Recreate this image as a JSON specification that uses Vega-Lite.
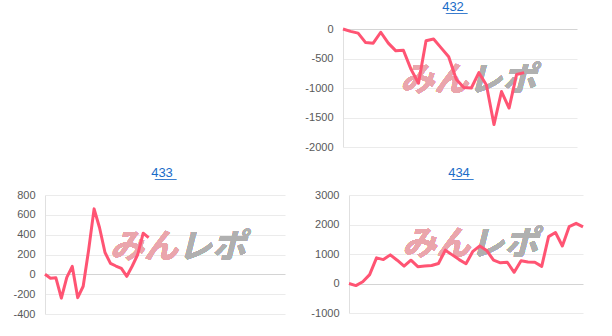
{
  "$schema": "https://vega.github.io/schema/vega-lite/v6.json",
  "padding": {"left": 12, "top": 1, "right": 0, "bottom": 0},
  "background": "white",
  "config": {
    "view": {"stroke": null},
    "font": "Liberation Sans",
    "title": {"fontSize": 13, "fontWeight": "normal", "color": "#1a6cc8", "font": "Liberation Sans", "offset": 9},
    "axisY": {"grid": true, "gridColor": {"condition": {"test": "datum.value === 0", "value": "#d4d4d4"}, "value": "#ebebeb"}, "domainColor": "#e0e0e0", "ticks": false, "labelPadding": 10, "labelColor": "#595959", "labelFontSize": 11, "labelFont": "Liberation Sans", "labelExpr": "'' + datum.value", "title": null}
  },
  "spacing": 15,
  "vconcat": [
    {
      "spacing": 19,
      "hconcat": [
        {
          "width": 240, "height": 118,
          "data": {"values": [{"i": 0}]},
          "mark": {"type": "point", "opacity": 0},
          "encoding": {}
        },
        {
          "title": {"text": "4\u03323\u03322\u0332", "dx": -7},
          "width": 234, "height": 118,
          "data": {"values": [
            {"i": 0, "v": 0}, {"i": 1, "v": -40}, {"i": 2, "v": -70}, {"i": 3, "v": -230}, {"i": 4, "v": -240},
            {"i": 5, "v": -55}, {"i": 6, "v": -240}, {"i": 7, "v": -370}, {"i": 8, "v": -360}, {"i": 9, "v": -680},
            {"i": 10, "v": -920}, {"i": 11, "v": -200}, {"i": 12, "v": -170}, {"i": 13, "v": -320}, {"i": 14, "v": -470},
            {"i": 15, "v": -850}, {"i": 16, "v": -990}, {"i": 17, "v": -1000}, {"i": 18, "v": -740}, {"i": 19, "v": -950},
            {"i": 20, "v": -1620}, {"i": 21, "v": -1060}, {"i": 22, "v": -1340}, {"i": 23, "v": -770}, {"i": 24, "v": -740}
          ]},
          "layer": [
            {
              "mark": {"type": "text", "text": "みん", "font": "Noto Sans CJK JP", "fontWeight": "bold", "fontStyle": "italic", "fontSize": 34, "color": "#eaa5ac", "align": "right", "baseline": "middle"},
              "encoding": {"x": {"datum": 16.6, "type": "quantitative", "axis": null}, "y": {"datum": -880, "type": "quantitative", "axis": {"values": [-2000, -1500, -1000, -500, 0], "title": null}}}
            },
            {
              "mark": {"type": "text", "text": "レポ", "font": "Noto Sans CJK JP", "fontWeight": "bold", "fontStyle": "italic", "fontSize": 34, "color": "#b0b0b0", "align": "left", "baseline": "middle"},
              "encoding": {"x": {"datum": 16.6, "type": "quantitative", "axis": null}, "y": {"datum": -880, "type": "quantitative", "axis": {"values": [-2000, -1500, -1000, -500, 0], "title": null}}}
            },
            {
              "mark": {"type": "line", "color": "#ff5473", "strokeWidth": 3, "strokeJoin": "round"},
              "encoding": {
                "x": {"field": "i", "type": "quantitative", "scale": {"domain": [0, 31], "nice": false}, "axis": null},
                "y": {"field": "v", "type": "quantitative", "scale": {"domain": [-2000, 0], "nice": false}, "axis": {"values": [-2000, -1500, -1000, -500, 0], "title": null}}
              }
            }
          ]
        }
      ]
    },
    {
      "spacing": 25,
      "hconcat": [
        {
          "title": {"text": "4\u03323\u03323\u0332", "dx": -3},
          "width": 240, "height": 119,
          "data": {"values": [
            {"i": 0, "v": 0}, {"i": 1, "v": -40}, {"i": 2, "v": -35}, {"i": 3, "v": -240}, {"i": 4, "v": -30},
            {"i": 5, "v": 80}, {"i": 6, "v": -235}, {"i": 7, "v": -120}, {"i": 8, "v": 245}, {"i": 9, "v": 660},
            {"i": 10, "v": 470}, {"i": 11, "v": 220}, {"i": 12, "v": 110}, {"i": 13, "v": 84}, {"i": 14, "v": 60},
            {"i": 15, "v": -20}, {"i": 16, "v": 84}, {"i": 17, "v": 200}, {"i": 18, "v": 415}, {"i": 19, "v": 370}
          ]},
          "layer": [
            {
              "mark": {"type": "text", "text": "みん", "font": "Noto Sans CJK JP", "fontWeight": "bold", "fontStyle": "italic", "fontSize": 34, "color": "#eaa5ac", "align": "right", "baseline": "middle"},
              "encoding": {"x": {"datum": 24.4, "type": "quantitative", "axis": null}, "y": {"datum": 268, "type": "quantitative", "axis": {"values": [-400, -200, 0, 200, 400, 600, 800], "title": null}}}
            },
            {
              "mark": {"type": "text", "text": "レポ", "font": "Noto Sans CJK JP", "fontWeight": "bold", "fontStyle": "italic", "fontSize": 34, "color": "#b0b0b0", "align": "left", "baseline": "middle"},
              "encoding": {"x": {"datum": 24.4, "type": "quantitative", "axis": null}, "y": {"datum": 268, "type": "quantitative", "axis": {"values": [-400, -200, 0, 200, 400, 600, 800], "title": null}}}
            },
            {
              "mark": {"type": "line", "color": "#ff5473", "strokeWidth": 3, "strokeJoin": "round"},
              "encoding": {
                "x": {"field": "i", "type": "quantitative", "scale": {"domain": [0, 44], "nice": false}, "axis": null},
                "y": {"field": "v", "type": "quantitative", "scale": {"domain": [-400, 800], "nice": false}, "axis": {"values": [-400, -200, 0, 200, 400, 600, 800], "title": null}}
              }
            }
          ]
        },
        {
          "title": {"text": "4\u03323\u03324\u0332", "dx": -7},
          "width": 234, "height": 118,
          "data": {"values": [
            {"i": 0, "v": 0}, {"i": 1, "v": -70}, {"i": 2, "v": 60}, {"i": 3, "v": 300}, {"i": 4, "v": 870},
            {"i": 5, "v": 810}, {"i": 6, "v": 970}, {"i": 7, "v": 790}, {"i": 8, "v": 590}, {"i": 9, "v": 790},
            {"i": 10, "v": 570}, {"i": 11, "v": 590}, {"i": 12, "v": 610}, {"i": 13, "v": 680}, {"i": 14, "v": 1130},
            {"i": 15, "v": 970}, {"i": 16, "v": 810}, {"i": 17, "v": 670}, {"i": 18, "v": 1090}, {"i": 19, "v": 1270},
            {"i": 20, "v": 1120}, {"i": 21, "v": 790}, {"i": 22, "v": 700}, {"i": 23, "v": 720}, {"i": 24, "v": 380},
            {"i": 25, "v": 770}, {"i": 26, "v": 730}, {"i": 27, "v": 720}, {"i": 28, "v": 580}, {"i": 29, "v": 1590},
            {"i": 30, "v": 1730}, {"i": 31, "v": 1270}, {"i": 32, "v": 1930}, {"i": 33, "v": 2040}, {"i": 34, "v": 1920}
          ]},
          "layer": [
            {
              "mark": {"type": "text", "text": "みん", "font": "Noto Sans CJK JP", "fontWeight": "bold", "fontStyle": "italic", "fontSize": 34, "color": "#eaa5ac", "align": "right", "baseline": "middle"},
              "encoding": {"x": {"datum": 17.6, "type": "quantitative", "axis": null}, "y": {"datum": 1290, "type": "quantitative", "axis": {"values": [-1000, 0, 1000, 2000, 3000], "title": null}}}
            },
            {
              "mark": {"type": "text", "text": "レポ", "font": "Noto Sans CJK JP", "fontWeight": "bold", "fontStyle": "italic", "fontSize": 34, "color": "#b0b0b0", "align": "left", "baseline": "middle"},
              "encoding": {"x": {"datum": 17.6, "type": "quantitative", "axis": null}, "y": {"datum": 1290, "type": "quantitative", "axis": {"values": [-1000, 0, 1000, 2000, 3000], "title": null}}}
            },
            {
              "mark": {"type": "line", "color": "#ff5473", "strokeWidth": 3, "strokeJoin": "round"},
              "encoding": {
                "x": {"field": "i", "type": "quantitative", "scale": {"domain": [0, 34], "nice": false}, "axis": null},
                "y": {"field": "v", "type": "quantitative", "scale": {"domain": [-1000, 3000], "nice": false}, "axis": {"values": [-1000, 0, 1000, 2000, 3000], "title": null}}
              }
            }
          ]
        }
      ]
    }
  ]
}
